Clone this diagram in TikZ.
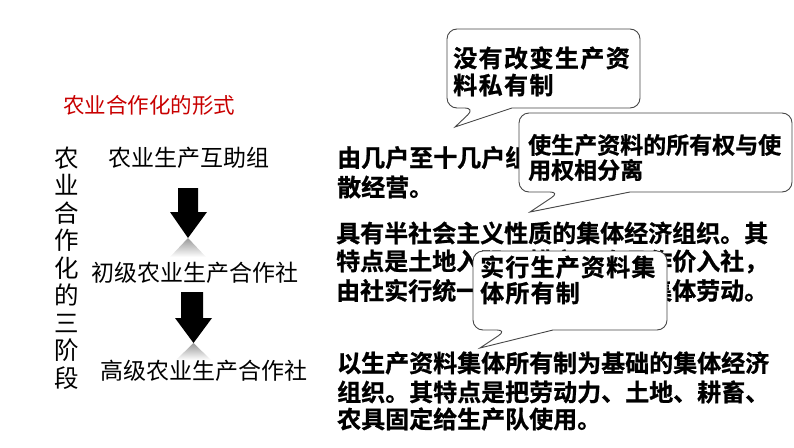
\documentclass[tikz,border=0pt]{standalone}
\usepackage{fontspec}
\newfontfamily\cjk{Noto Sans CJK SC}
\newfontfamily\cjkb{Noto Sans CJK SC Bold}[FakeBold=1]
\definecolor{titlered}{RGB}{200,0,0}
\definecolor{calledge}{RGB}{70,70,70}
\tikzset{
  lbl/.style={font=\cjk\fontsize{23}{23}\selectfont, inner sep=0pt},
  vert/.style={font=\cjk\fontsize{24.5}{27.5}\selectfont, inner sep=0pt, align=center},
  para/.style={font=\cjkb\fontsize{24}{24}\selectfont, anchor=west, inner sep=0pt},
  calltxt/.style={font=\cjkb\fontsize{24}{24}\selectfont, anchor=west, inner sep=0pt},
  calltxtb/.style={font=\cjkb\fontsize{23}{23}\selectfont, anchor=west, inner sep=0pt},
  callbox/.style={fill=white, draw=calledge, line width=0.9pt},
  blockarrow/.style={fill=black},
  mirror/.style={top color=black!40, bottom color=white, draw=none},
}
\begin{document}
\begin{tikzpicture}[x=1pt,y=-1pt]
\useasboundingbox (0,0) rectangle (794,447);

% title
\node[font=\cjk\fontsize{21.5}{21.5}\selectfont, text=titlered, anchor=west, inner sep=0pt] (title) at (63,105) {农业合作化的形式};

% vertical label
\node[vert] (vlabel) at (67,268) {农\\业\\合\\作\\化\\的\\三\\阶\\段};

% stage labels
\node[lbl] (s1) at (189,158) {农业生产互助组};
\node[lbl] (s2) at (195,273) {初级农业生产合作社};
\node[lbl] (s3) at (204,371) {高级农业生产合作社};

% block arrows
\fill[blockarrow] (178,188) -- (198,188) -- (198,212) -- (207,212) -- (188,238) -- (170,212) -- (178,212) -- cycle;
\shade[mirror] (188,238) -- (206,257) -- (170,257) -- cycle;
\fill[blockarrow] (181,292) -- (203,292) -- (203,318) -- (212,318) -- (193.5,343) -- (175,318) -- (181,318) -- cycle;
\shade[mirror] (193.5,343) -- (211,360) -- (176,360) -- cycle;

% paragraphs
\node[para] (p1a) at (337,158) {由几户至十几户组成，共同劳动，分};
\node[para] (p1b) at (337,187) {散经营。};
\node[para] (p2a) at (336,233) {具有半社会主义性质的集体经济组织。其};
\node[para] (p2b) at (336,261.5) {特点是土地入股、耕畜、农具作价入社，};
\node[para] (p2c) at (336,291) {由社实行统一经营，社员参加集体劳动。};
\node[para] (p3a) at (337,363) {以生产资料集体所有制为基础的集体经济};
\node[para] (p3b) at (337,392) {组织。其特点是把劳动力、土地、耕畜、};
\node[para] (p3c) at (337,419) {农具固定给生产队使用。};

% callout 1
\coordinate (t1) at (455,127);
\draw[callbox] (512,108) [rounded corners=10pt] -- (640,108) -- (640,29) -- (447,29) -- (447,108) -- (475,108) [sharp corners] -- (t1) -- cycle;
\node[calltxt] (c1a) at (453,58) {\addfontfeature{LetterSpace=6}没有改变生产资};
\node[calltxt] (c1b) at (453,85) {\addfontfeature{LetterSpace=6}料私有制};

% callout 2
\coordinate (t2) at (530,212);
\draw[callbox] (630,192) [rounded corners=10pt] -- (792,192) -- (792,113) -- (519,113) -- (519,192) -- (560,192) [sharp corners] -- (t2) -- cycle;
\node[calltxtb] (c2a) at (528,145) {使生产资料的所有权与使};
\node[calltxtb] (c2b) at (528,170) {用权相分离};

% callout 3
\coordinate (t3) at (480,348);
\draw[callbox] (553,330) [rounded corners=10pt] -- (667,330) -- (667,251) -- (473,251) -- (473,330) -- (507,330) [sharp corners] -- (t3) -- cycle;
\node[calltxt] (c3a) at (480,267) {\addfontfeature{LetterSpace=5}实行生产资料集};
\node[calltxt] (c3b) at (480,293) {\addfontfeature{LetterSpace=5}体所有制};
\end{tikzpicture}
\end{document}
